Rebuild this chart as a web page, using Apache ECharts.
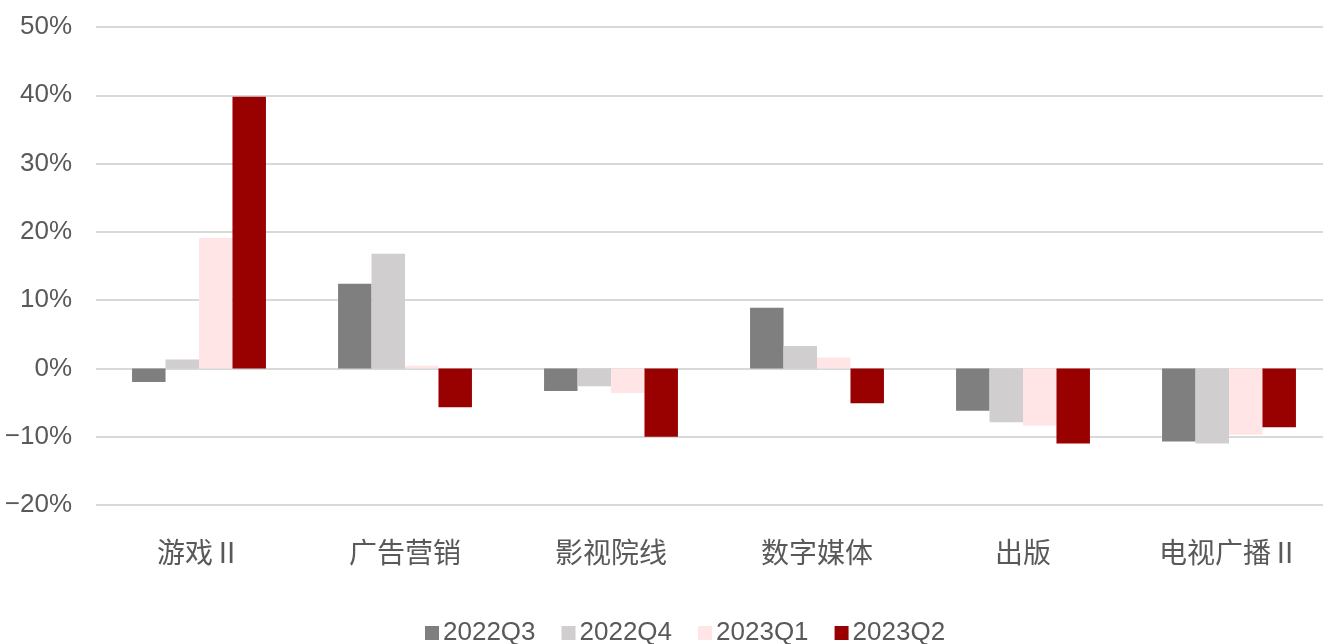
<!DOCTYPE html>
<html>
<head>
<meta charset="utf-8">
<script src="https://cdn.jsdelivr.net/npm/echarts@6/dist/echarts.min.js"></script>
<style>
  html, body { margin: 0; padding: 0; background: #ffffff; }
  #chart { width: 1323px; height: 644px; }
</style>
</head>
<body>
<div id="chart"></div>
<script>
// Industry categories along the x axis
const categories = ['游戏Ⅱ', '广告营销', '影视院线', '数字媒体', '出版', '电视广播Ⅱ'];

// Quarterly growth per category, in percent
const q2022Q3 = [-2.0, 12.4, -3.3, 8.9, -6.2, -10.7];
const q2022Q4 = [1.3, 16.8, -2.6, 3.3, -7.9, -11.0];
const q2023Q1 = [19.1, 0.4, -3.6, 1.6, -8.4, -9.7];
const q2023Q2 = [39.8, -5.7, -10.0, -5.1, -11.0, -8.6];

const seriesNames = ['2022Q3', '2022Q4', '2023Q1', '2023Q2'];
const seriesData = [q2022Q3, q2022Q4, q2023Q1, q2023Q2];
const seriesColors = ['#7f7f7f', '#d0cece', '#ffe5e5', '#990000'];

const latin = '"Liberation Sans", Arial, sans-serif';

const chart = echarts.init(document.getElementById('chart'));
chart.setOption({
  animation: false,
  backgroundColor: '#ffffff',
  grid: {
    left: 96, right: -9, top: 27, bottom: 139,
    containLabel: false,
    outerBoundsMode: 'none'
  },
  legend: {
    data: seriesNames,
    top: 615,
    left: 420,
    itemWidth: 14,
    itemHeight: 14,
    itemGap: 26,
    icon: 'rect',
    textStyle: { fontFamily: latin, fontSize: 26, color: '#595959', padding: [0, 0, 0, -1] }
  },
  xAxis: {
    type: 'category',
    data: categories,
    axisLine: { show: false },
    axisTick: { show: false },
    axisLabel: {
      margin: 33,
      fontSize: 28,
      color: '#595959',
      fontFamily: '"Noto Sans CJK SC", sans-serif'
    }
  },
  yAxis: {
    type: 'value',
    min: -20,
    max: 50,
    interval: 10,
    axisLine: { show: false },
    axisTick: { show: false },
    axisLabel: {
      margin: 24,
      fontSize: 26,
      color: '#595959',
      fontFamily: latin,
      formatter: v => (v < 0 ? '\u2212' + Math.abs(v) : v) + '%'
    },
    splitLine: { lineStyle: { color: '#d9d9d9', width: 2 } }
  },
  series: seriesNames.map((name, i) => ({
    name: name,
    type: 'bar',
    data: seriesData[i],
    barGap: '0%',
    barCategoryGap: '35%',
    itemStyle: { color: seriesColors[i] }
  }))
});
</script>
</body>
</html>
